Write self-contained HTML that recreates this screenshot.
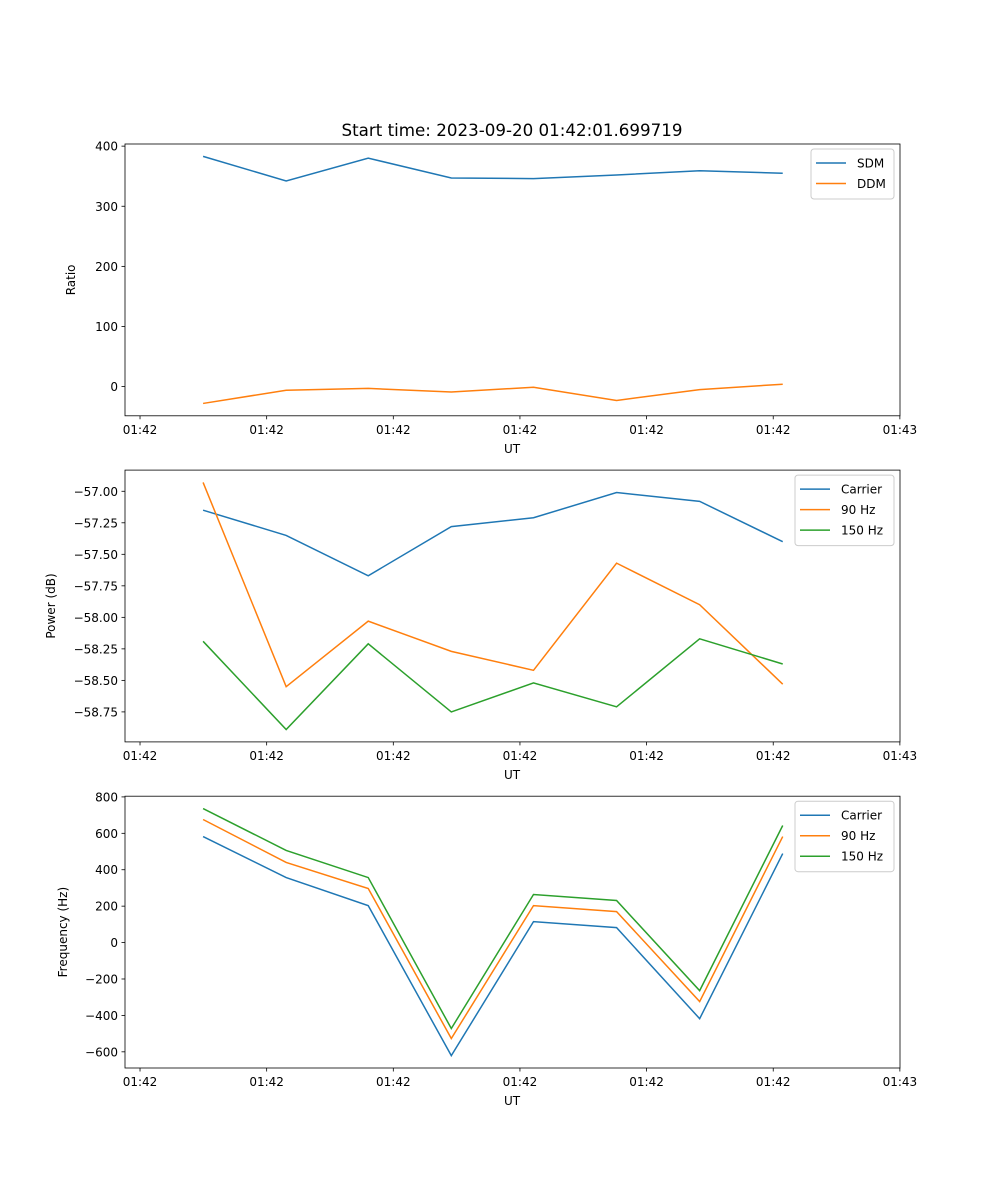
<!DOCTYPE html>
<html><head><meta charset="utf-8"><style>
body{margin:0;background:#fff;}
svg{display:block;font-family:"DejaVu Sans","Liberation Sans",sans-serif;}
</style></head><body>
<svg id="fig" width="1000" height="1200" viewBox="0 0 1000 1200">
<text x="512" y="136" font-size="16.7" text-anchor="middle">Start time: 2023-09-20 01:42:01.699719</text>
</svg>
<script>
// shared x data (seconds from 01:42:00)
const times = [4.98, 11.54, 18.02, 24.58, 31.07, 37.63, 44.19, 50.75];
const xTickVals = [0, 10, 20, 30, 40, 50, 60];
const xTickLabels = ["01:42","01:42","01:42","01:42","01:42","01:42","01:43"];
// panel 1
const sdm = [383, 342, 380, 347, 346, 352, 359, 355];
const ddm = [-28, -6, -3, -9, -1, -23, -5, 4];
const p1Ticks = [0, 100, 200, 300, 400];
// panel 2
const powCarrier = [-57.15, -57.35, -57.67, -57.28, -57.21, -57.01, -57.08, -57.40];
const pow90 = [-56.93, -58.55, -58.03, -58.27, -58.42, -57.57, -57.90, -58.53];
const pow150 = [-58.19, -58.89, -58.21, -58.75, -58.52, -58.71, -58.17, -58.37];
const p2Ticks = [-57.00, -57.25, -57.50, -57.75, -58.00, -58.25, -58.50, -58.75];
// panel 3
const freqCarrier = [582, 357, 203, -621, 115, 82, -418, 489];
const freq90 = [676, 440, 297, -527, 203, 170, -324, 582];
const freq150 = [736, 506, 357, -472, 264, 231, -264, 643];
const p3Ticks = [-600, -400, -200, 0, 200, 400, 600, 800];

const NS = "http://www.w3.org/2000/svg";
const svg = document.getElementById('fig');
function mk(tag, attrs, parent){const e=document.createElementNS(NS,tag);for(const k in attrs)e.setAttribute(k,attrs[k]);(parent||svg).appendChild(e);return e;}
const L=125,R=900,XMIN=-1.186,XMAX=60.01;
const sx=v=>L+(v-XMIN)/(XMAX-XMIN)*(R-L);

function panel(top,bot,series,names,colors,yTicks,fmt,ylabel,dec,legW,idx){
  const all=[].concat(...series);const mn=Math.min(...all),mx=Math.max(...all),m=(mx-mn)*0.05;
  const y0=mn-m,y1=mx+m;const sy=v=>bot-(v-y0)/(y1-y0)*(bot-top);
  const g=mk('g',{});
  
  
  series.forEach((s,i)=>{
    const p=mk('polyline',{points:s.map((v,j)=>sx(times[j])+','+sy(v)).join(' '),fill:'none',stroke:colors[i],'stroke-width':1.5},g);
    
    
  });
  const fr=mk('rect',{x:L,y:top,width:R-L,height:bot-top,fill:'none',stroke:'#000','stroke-width':0.8},g);
  
  
  xTickVals.forEach((v,i)=>{const x=sx(v);mk('line',{x1:x,x2:x,y1:bot,y2:bot+3.5,stroke:'#000','stroke-width':0.8},g);
    const t=mk('text',{x:x,y:bot+18,'font-size':12,'text-anchor':'middle'},g);t.textContent=xTickLabels[i];
    
    });
  yTicks.forEach(v=>{const y=sy(v);mk('line',{x1:L-3.5,x2:L,y1:y,y2:y,stroke:'#000','stroke-width':0.8},g);
    const t=mk('text',{x:L-7,y:y+4.5,'font-size':12,'text-anchor':'end'},g);t.textContent=fmt(v);
    
    });
  const xl=mk('text',{x:512,y:bot+37,'font-size':12,'text-anchor':'middle'},g);xl.textContent='UT';
  
  
  const yl=mk('text',{x:0,y:0,'font-size':12,'text-anchor':'middle',transform:`translate(${L-dec},${(top+bot)/2}) rotate(-90)`},g);yl.textContent=ylabel;
  
  
  const lx=R-6-legW,ly=top+5,lh=names.length*20.5+9;
  const lg=mk('g',{},g);
  
  
  mk('rect',{x:lx,y:ly,width:legW,height:lh,rx:3,fill:'#fff','fill-opacity':0.8,stroke:'#ccc','stroke-width':1},lg);
  names.forEach((n,i)=>{const yy=ly+14+i*20.5;
    mk('line',{x1:lx+5,x2:lx+35,y1:yy,y2:yy,stroke:colors[i],'stroke-width':1.5},lg);
    const t=mk('text',{x:lx+46,y:yy+4.5,'font-size':12},lg);t.textContent=n;
    
    });
}
const B='#1f77b4',O='#ff7f0e',G='#2ca02c';
panel(144,415.8,[sdm,ddm],['SDM','DDM'],[B,O],p1Ticks,v=>v<0?'\u2212'+(-v):String(v),'Ratio',50,83,1);
panel(470.1,741.9,[powCarrier,pow90,pow150],['Carrier','90 Hz','150 Hz'],[B,O,G],p2Ticks,v=>'\u2212'+(-v).toFixed(2),'Power (dB)',70,99,2);
panel(796.2,1068,[freqCarrier,freq90,freq150],['Carrier','90 Hz','150 Hz'],[B,O,G],p3Ticks,v=>v<0?'\u2212'+(-v):String(v),'Frequency (Hz)',58,99,3);
</script>
</body></html>
